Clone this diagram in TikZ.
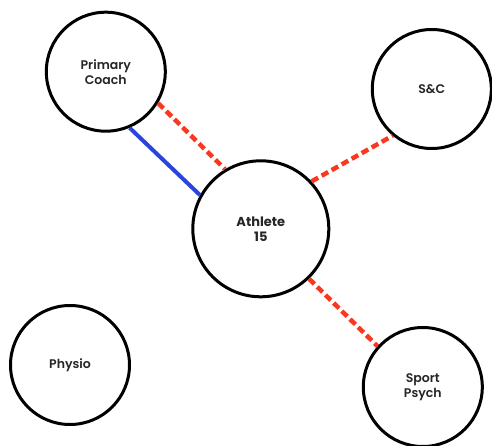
\documentclass[tikz,border=0pt]{standalone}
\usepackage{fontspec}
\setmainfont{Poppins}
\newfontfamily\semifont{Poppins SemiBold}
\definecolor{linkred}{HTML}{F8381F}
\definecolor{linkblue}{HTML}{2A44DD}
\tikzset{
  person/.style={circle, draw=black, line width=3pt, fill=white,
    minimum size=119pt, inner sep=0pt, align=center,
    font=\semifont\fontsize{12.5}{15}\selectfont, text=black!85},
  athlete/.style={person, minimum size=136pt,
    font=\bfseries\fontsize{13}{15}\selectfont},
  weaklink/.style={draw=linkred, line width=4.5pt, dash pattern=on 7.5pt off 4pt},
  stronglink/.style={draw=linkblue, line width=4pt},
}
\begin{document}
\begin{tikzpicture}[x=1pt, y=-1pt]
  \useasboundingbox (0,0) rectangle (492,446);

  % people
  \node[person]  (coach)   at (105.8, 71.7) {Primary\\Coach};
  \node[person]  (sc)      at (431.8, 89)   {S\&C};
  \node[athlete] (ath)     at (260.8, 228.8){Athlete\\15};
  \node[person]  (physio)  at (70, 365)     {Physio};
  \node[person]  (psych)   at (422.8, 387)  {Sport\\Psych};

  % relationships
  \draw[stronglink] (coach.-67.2) -- (ath.151.6);
  \draw[weaklink]   (coach.-31.9) -- (ath.121.6);
  \draw[weaklink]   (ath.43.2)    -- (sc.230.5);
  \draw[weaklink]   (ath.-46.1)   -- (psych.138.9);
\end{tikzpicture}
\end{document}
